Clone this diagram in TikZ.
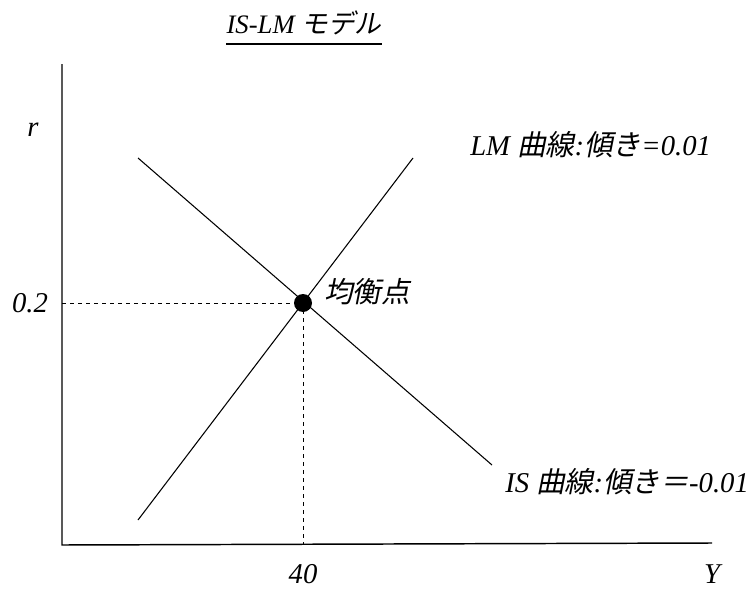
\documentclass[tikz,border=0pt]{standalone}
\usepackage{fontspec}
\setmainfont{Liberation Serif}
\newfontfamily\jafont[FakeSlant=0.2]{Noto Sans CJK JP}
\newcommand{\ja}[1]{{\jafont #1}}
\usetikzlibrary{positioning}

\begin{document}
\begin{tikzpicture}[x=0.75pt,y=-0.75pt,
  lbl/.style={font=\fontsize{21.5}{24}\selectfont\itshape,inner sep=0pt},
  ttl/.style={font=\fontsize{20}{22}\selectfont\itshape,inner sep=0pt},
  axis/.style={line width=1.1pt},
  curve/.style={line width=0.8pt},
  guide/.style={dashed,line width=0.7pt},
  eqdot/.style={circle,fill=black,minimum size=13.5pt,inner sep=0pt}]
\useasboundingbox (0,0) rectangle (754,589);
% axes
\coordinate (o) at (62,545);
\coordinate (ytop) at (62,64);
\coordinate (xend) at (712,543);
\draw[axis] (ytop) -- (o) -- (xend);
% curves
\node[eqdot] (eq) at (303,303) {};
\coordinate (lm1) at (138,520); \coordinate (lm2) at (413,158);
\coordinate (is1) at (138,158); \coordinate (is2) at (492,465);
\draw[curve] (lm1) -- (lm2);
\draw[curve] (is1) -- (is2);
% guides
\coordinate (r0) at (62,303); \coordinate (y0) at (303,545);
\draw[guide] (r0) -- (eq.center) -- (y0);
% labels
\node[ttl,anchor=base] (title) at (304,33) {IS-LM \ja{モデル}};
\draw[line width=1.3pt] ([yshift=-7pt]title.south west) -- ([yshift=-7pt]title.south east);
\node[lbl] (rlab) at (33,130) {r};
\node[lbl] (rval) at (30,303) {0.2};
\node[lbl] (yval) at (303,574) {40};
\node[lbl] (ylab) at (712,574) {Y};
\node[lbl] (eqlab) at (367,292) {\ja{均衡点}};
\node[lbl,anchor=west] (lmlab) at (470,145) {LM \ja{曲線}:\ja{傾き}=0.01};
\node[lbl,anchor=west] (islab) at (505,482) {IS \ja{曲線}:\ja{傾き}\ja{＝}-0.01};
\end{tikzpicture}
\end{document}
